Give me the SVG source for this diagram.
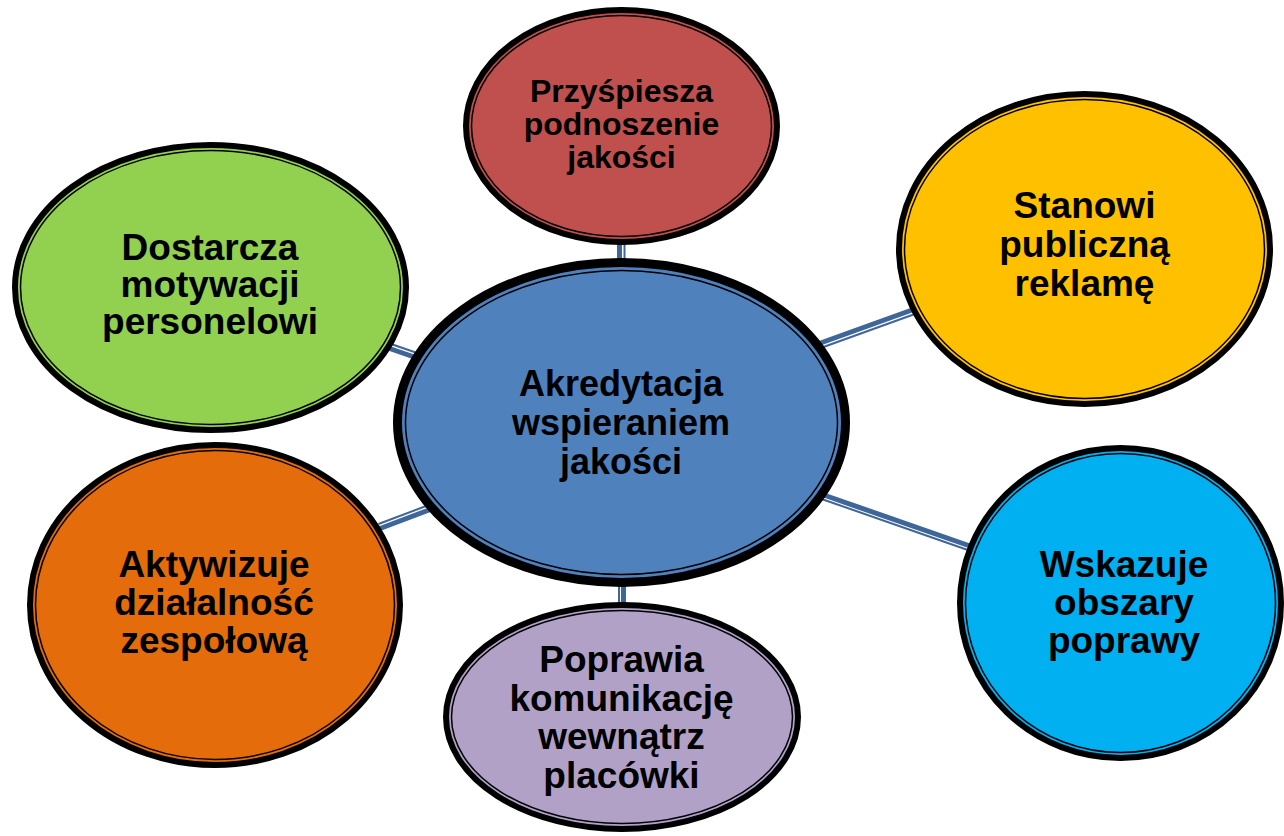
<svg xmlns="http://www.w3.org/2000/svg" width="1284" height="836" viewBox="0 0 1284 836">
<style>
.outer{stroke:#000;stroke-width:6}
.inner{fill:none;stroke:#000;stroke-width:1.5}
.thick{stroke:#3f6698;stroke-width:5;stroke-linecap:butt}
.thin{stroke:#3f6698;stroke-width:2;stroke-linecap:butt}
text{font-family:"Liberation Sans",Arial,sans-serif;font-weight:bold;fill:#000;text-anchor:middle;font-size:37px}
</style>
<rect width="1284" height="836" fill="#fff"/>
<g id="connectors">
<line class="thick" x1="619.5" y1="238" x2="619.5" y2="264"/>
<line class="thin" x1="624.5" y1="238" x2="624.5" y2="264"/>
<line class="thin" x1="619" y1="580" x2="619" y2="608"/>
<line class="thick" x1="623.5" y1="580" x2="623.5" y2="608"/>
<line class="thick" x1="815" y1="345" x2="912" y2="310"/>
<line class="thin" x1="816.5" y1="349.5" x2="913.5" y2="314.5"/>
<line class="thick" x1="818" y1="493" x2="970" y2="546"/>
<line class="thin" x1="816.5" y1="497.2" x2="968.5" y2="550.2"/>
<line class="thin" x1="391" y1="344" x2="423" y2="355"/>
<line class="thick" x1="389.5" y1="348.5" x2="421.5" y2="359.5"/>
<line class="thin" x1="378.5" y1="524" x2="431.5" y2="504"/>
<line class="thick" x1="380" y1="528.5" x2="433" y2="508.5"/>
</g>
<g id="node-top">
<ellipse class="outer" cx="621.5" cy="126" rx="155.5" ry="116" fill="#c0504d"/>
<ellipse class="inner" cx="621.5" cy="126" rx="150" ry="110.5"/>
<text style="font-size:32px"><tspan x="621.5" y="102">Przyśpiesza</tspan><tspan x="621.5" y="135">podnoszenie</tspan><tspan x="621.5" y="168">jakości</tspan></text>
</g>
<g id="node-green">
<ellipse class="outer" cx="210.5" cy="287.5" rx="195.5" ry="142.5" fill="#92d050"/>
<ellipse class="inner" cx="210.5" cy="287.5" rx="190" ry="137"/>
<text><tspan x="210" y="260">Dostarcza</tspan><tspan x="210" y="297">motywacji</tspan><tspan x="210" y="334">personelowi</tspan></text>
</g>
<g id="node-yellow">
<ellipse class="outer" cx="1084.5" cy="249" rx="185.5" ry="155" fill="#ffc000"/>
<ellipse class="inner" cx="1084.5" cy="249" rx="180" ry="149.5"/>
<text><tspan x="1084.5" y="218">Stanowi</tspan><tspan x="1084.5" y="257">publiczną</tspan><tspan x="1084.5" y="296">reklamę</tspan></text>
</g>
<g id="node-cyan">
<ellipse class="outer" cx="1120.5" cy="603" rx="160.5" ry="155" fill="#00b0f0"/>
<ellipse class="inner" cx="1120.5" cy="603" rx="155" ry="149.5"/>
<text><tspan x="1124" y="577">Wskazuje</tspan><tspan x="1124" y="615">obszary</tspan><tspan x="1124" y="653">poprawy</tspan></text>
</g>
<g id="node-orange">
<ellipse class="outer" cx="215" cy="605" rx="185" ry="160" fill="#e46c0a"/>
<ellipse class="inner" cx="215" cy="605" rx="179.5" ry="154.5"/>
<text><tspan x="214" y="577">Aktywizuje</tspan><tspan x="214" y="615">działalność</tspan><tspan x="214" y="653">zespołową</tspan></text>
</g>
<g id="node-purple">
<ellipse class="outer" cx="622" cy="717" rx="176" ry="112" fill="#b2a1c7"/>
<ellipse class="inner" cx="622" cy="717" rx="170.5" ry="106.5"/>
<text><tspan x="621.5" y="672">Poprawia</tspan><tspan x="621.5" y="710.5">komunikację</tspan><tspan x="621.5" y="749">wewnątrz</tspan><tspan x="621.5" y="787.5">placówki</tspan></text>
</g>
<g id="node-center">
<ellipse cx="621.5" cy="422.5" rx="224" ry="160" fill="#4f81bd" stroke="#000" stroke-width="9"/>
<ellipse class="inner" cx="621.5" cy="422.5" rx="216" ry="152"/>
<text style="font-size:36px"><tspan x="621" y="396">Akredytacja</tspan><tspan x="621" y="435">wspieraniem</tspan><tspan x="621" y="474">jakości</tspan></text>
</g>
</svg>
